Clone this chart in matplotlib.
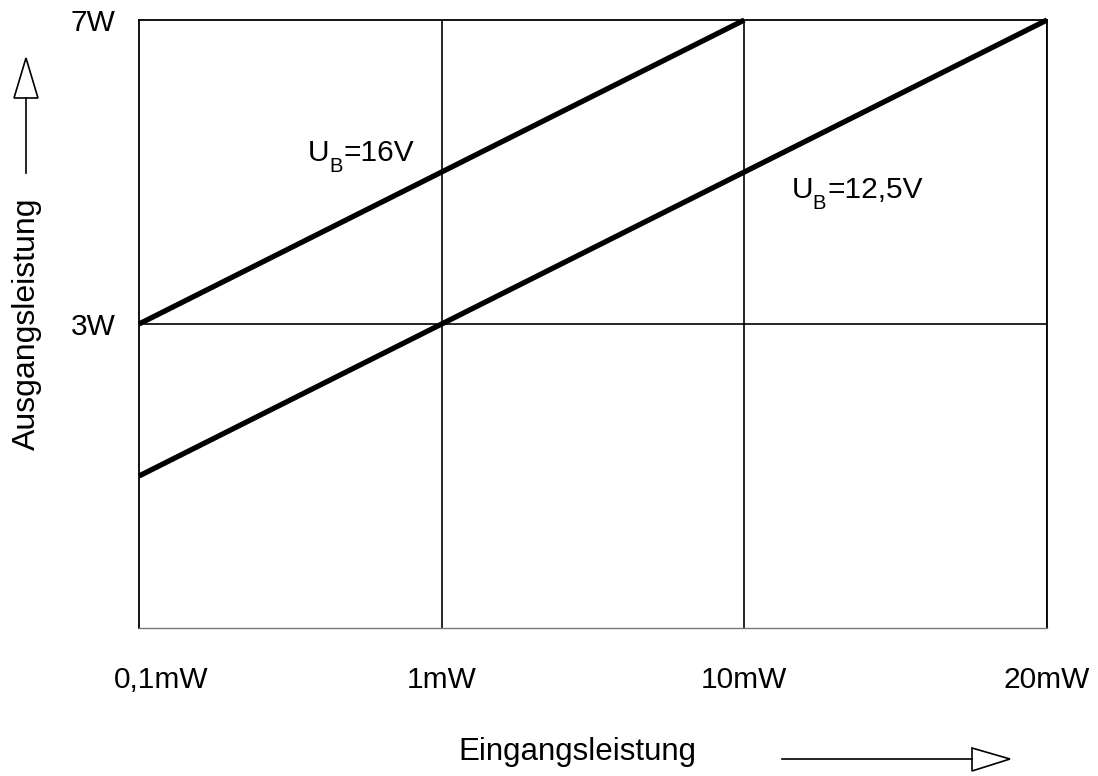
import matplotlib
matplotlib.use("Agg")
import matplotlib.pyplot as plt
from matplotlib.patches import Polygon

plt.rcParams['font.family'] = ['Liberation Sans', 'DejaVu Sans']

# input power categories (equally spaced on the chart)
x_labels = ['0,1mW', '1mW', '10mW', '20mW']
x_pos = [0, 1, 2, 3]
# output power levels
y_labels = ['', '3W', '7W']
y_pos = [0, 1, 2]

# U_B = 16V curve
x_16 = [0, 1, 2]
y_16 = [1, 1.5, 2]
# U_B = 12,5V curve
x_125 = [0, 1, 2, 3]
y_125 = [0.5, 1, 1.5, 2]

FS = 21.5
PT = 72 / 100  # points per pixel

fig = plt.figure(figsize=(10.98, 7.76), dpi=100)
ax = fig.add_axes([139 / 1098, 1 - 628 / 776, 908 / 1098, 608 / 776])
ax.set_xlim(0, 3)
ax.set_ylim(0, 2)

for v in x_pos[1:]:
    ax.axvline(v, color='black', lw=1.2, zorder=1)
ax.axhline(y_pos[1], color='black', lw=1.2, zorder=1)

ax.plot(x_16, y_16, color='black', lw=3.8, solid_capstyle='butt', clip_on=False, zorder=3)
ax.plot(x_125, y_125, color='black', lw=3.8, solid_capstyle='butt', clip_on=False, zorder=3)

for s in ['left', 'right', 'top']:
    ax.spines[s].set_linewidth(1.3)
    ax.spines[s].set_color('black')
ax.spines['bottom'].set_linewidth(1.0)
ax.spines['bottom'].set_color('#777777')

ax.set_yticks(y_pos)
ax.set_yticklabels(y_labels, fontsize=FS)
ax.tick_params(axis='y', length=0, pad=17)
ax.set_xticks([])
# x labels placed under the grid lines (first one nudged right like the original)
label_x = [x_pos[0] + 0.073, x_pos[1], x_pos[2], x_pos[3]]
for xv, lab in zip(label_x, x_labels):
    ax.text(xv, -0.17, lab, ha='center', va='center', fontsize=FS, clip_on=False)


def ub_label(x, y, rest):
    # "U" with a lowered subscript "B", then the rest of the label
    ax.text(x, y, 'U', fontsize=FS, ha='left', va='baseline')
    ax.annotate('B', (x, y), xytext=(21 * PT, -11 * PT), textcoords='offset points',
                fontsize=14.5, ha='left', va='baseline')
    ax.annotate(rest, (x, y), xytext=(36 * PT, 0), textcoords='offset points',
                fontsize=FS, ha='left', va='baseline')


ub_label(0.558, 1.536, '=16V')
ub_label(2.157, 1.414, '=12,5V')

fig.text(577 / 1098, 1 - 752 / 776, 'Eingangsleistung', fontsize=22.5, ha='center', va='center')
fig.text(27 / 1098, 1 - 324 / 776, 'Ausgangsleistung', fontsize=23, ha='center', va='center',
         rotation=90)

# arrows drawn in pixel coordinates of the figure
def px(x, y):
    return (x / 1098, 1 - y / 776)

fig.add_artist(plt.Line2D([px(782, 0)[0], px(972, 0)[0]], [px(0, 759)[1]] * 2,
                          color='black', lw=1.2))
fig.add_artist(Polygon([px(972, 748), px(1010, 759), px(972, 771)], closed=True,
                       facecolor='white', edgecolor='black', lw=1.2,
                       transform=fig.transFigure))
fig.add_artist(plt.Line2D([px(26, 0)[0]] * 2, [px(0, 98)[1], px(0, 173)[1]],
                          color='black', lw=1.2))
fig.add_artist(Polygon([px(14, 98), px(26, 58), px(38, 98)], closed=True,
                       facecolor='white', edgecolor='black', lw=1.2,
                       transform=fig.transFigure))

fig.savefig('out.png', dpi=100)
